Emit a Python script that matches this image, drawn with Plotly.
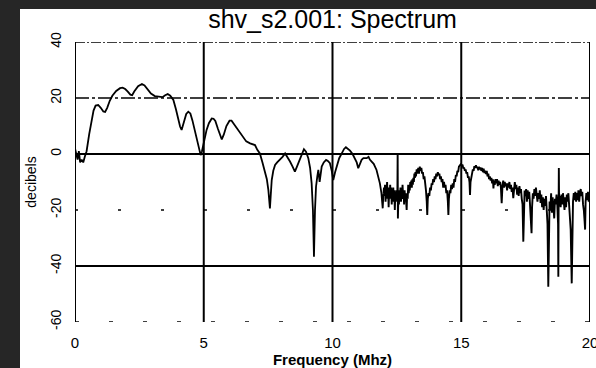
import plotly.graph_objects as go

# ---- data ----
freq_smooth = [0.00, 0.05, 0.10, 0.15, 0.20, 0.26, 0.32, 0.38, 0.45, 0.55, 0.65, 0.72, 0.80, 0.90, 1.00,
               1.10, 1.17, 1.25, 1.35, 1.45, 1.60, 1.75, 1.85, 1.95, 2.05, 2.15, 2.22, 2.30, 2.45, 2.60,
               2.70, 2.80, 2.95, 3.10, 3.25, 3.40, 3.50, 3.60, 3.70, 3.82, 3.92, 4.01, 4.08, 4.14, 4.22,
               4.32, 4.40, 4.48, 4.56, 4.64, 4.72, 4.80, 4.88, 4.93, 4.98, 5.04, 5.11, 5.20, 5.31, 5.38,
               5.45, 5.55, 5.63, 5.70, 5.78, 5.88, 6.00, 6.08, 6.15, 6.30, 6.45, 6.54, 6.65, 6.80, 6.90,
               6.99, 7.08, 7.18, 7.28, 7.38, 7.45, 7.51, 7.55, 7.57, 7.60, 7.64, 7.70, 7.77, 7.85, 7.96,
               8.06, 8.16, 8.25, 8.35, 8.45, 8.54, 8.62, 8.74, 8.82, 8.89, 8.97, 9.06, 9.13, 9.19, 9.24,
               9.28, 9.32, 9.36, 9.41, 9.45, 9.50, 9.54, 9.58, 9.66, 9.75, 9.82, 9.90, 9.97, 10.03, 10.10,
               10.16, 10.26, 10.36, 10.45, 10.52, 10.60, 10.68, 10.78, 10.87, 10.94, 11.00, 11.06, 11.13,
               11.20, 11.27, 11.33, 11.40, 11.45, 11.52, 11.60, 11.71, 11.78, 11.84, 11.90, 11.95, 11.98]
db_smooth = [2, 0, -2, 1, -3, -2, -3, -1, 1, 7, 12, 15.5, 17.3, 17.5, 16.5,
             15.2, 15, 16.5, 19, 20.8, 22.5, 23.5, 23.7, 23.2, 22.3, 21.2, 21, 22.3, 24.2, 25,
             24.5, 23.2, 21.6, 20.7, 20.4, 20.3, 21, 21.4, 20.8, 19.3, 16, 12, 9.8, 8.6, 11,
             14.3, 15.1, 14.5, 12, 9, 6, 3, -0.4, 1, 3, 6, 8.6, 11, 12.7, 12.6,
             11.8, 9, 6.5, 5.2, 7, 10, 11.9, 11.9, 11, 9, 7, 6.2, 4.5, 3.8, 3.5,
             3.2, 1.5, 0.2, -3, -6.3, -9, -12.9, -17, -19.4, -15, -9.3, -6, -3.9, -3, -2.1,
             -1, 0.2, -1, -2.7, -4.5, -6.3, -4.5, -1.5, 0.5, 1.7, 0.8, -1.5, -5, -10.5, -20,
             -36.7, -20, -11.7, -8, -5.7, -10, -6, -4.5, -3, -2.1, -2.5, -3.3, -6, -9.3, -6.5,
             -4.5, -1.5, 0.2, 1.8, 2.4, 1.8, 1.2, 0, -1.5, -3, -5.1, -3.5, -2.1,
             -1.5, -1.6, -1.5, -1, -2, -2.7, -3.5, -5.7, -8, -10.5, -14, -19.4, -14]

freq_noisy = [11.98, 12.00, 12.02, 12.04, 12.06, 12.08, 12.10, 12.12, 12.14, 12.16, 12.18, 12.20, 12.22,
              12.24, 12.26, 12.28, 12.30, 12.32, 12.34, 12.36, 12.38, 12.40, 12.42, 12.44, 12.46, 12.48,
              12.50, 12.52, 12.53, 12.54, 12.56, 12.58, 12.60, 12.62, 12.64, 12.66, 12.68, 12.70, 12.72,
              12.74, 12.76, 12.78, 12.80, 12.82, 12.84, 12.86, 12.88, 12.90, 12.92, 12.94, 12.96, 12.98,
              13.00, 13.02, 13.04, 13.06, 13.08, 13.10, 13.12, 13.14, 13.16, 13.18, 13.20, 13.22, 13.24,
              13.27, 13.30, 13.33, 13.36, 13.39, 13.42, 13.45, 13.48, 13.51, 13.54, 13.57, 13.60, 13.63,
              13.66, 13.68, 13.70, 13.73, 13.76, 13.79, 13.82, 13.85, 13.88, 13.91, 13.94, 13.97, 14.00,
              14.03, 14.06, 14.09, 14.12, 14.15, 14.18, 14.21, 14.24, 14.27, 14.30, 14.33, 14.36, 14.39,
              14.42, 14.45, 14.48, 14.50, 14.52, 14.55, 14.58, 14.61, 14.64, 14.67, 14.70, 14.73, 14.76,
              14.79, 14.82, 14.85, 14.88, 14.91, 14.95, 14.99, 15.02, 15.05, 15.08, 15.11, 15.14, 15.17,
              15.20, 15.23, 15.26, 15.29, 15.32, 15.34, 15.36, 15.39, 15.42, 15.45, 15.48, 15.51, 15.54,
              15.57, 15.60, 15.63, 15.66, 15.69, 15.72, 15.75, 15.78, 15.81, 15.84, 15.87, 15.90, 15.93,
              15.96, 15.99, 16.02, 16.05, 16.08, 16.11, 16.14, 16.17, 16.20, 16.23, 16.25, 16.27, 16.30,
              16.33, 16.36, 16.39, 16.42, 16.45, 16.48, 16.51, 16.54, 16.57, 16.60, 16.63, 16.66, 16.69,
              16.72, 16.75, 16.78, 16.81, 16.84, 16.87, 16.90, 16.93, 16.96, 16.99, 17.02, 17.05, 17.08,
              17.11, 17.14, 17.17, 17.20, 17.23, 17.26, 17.29, 17.32, 17.35, 17.38, 17.41, 17.43, 17.46,
              17.49, 17.52, 17.55, 17.58, 17.61, 17.64, 17.67, 17.70, 17.73, 17.75, 17.78, 17.81, 17.84,
              17.87, 17.90, 17.93, 17.96, 17.99, 18.02, 18.05, 18.08, 18.11, 18.14, 18.17, 18.20, 18.23,
              18.26, 18.29, 18.32, 18.35, 18.38, 18.40, 18.43, 18.46, 18.49, 18.52, 18.55, 18.58, 18.61,
              18.64, 18.67, 18.70, 18.73, 18.76, 18.77, 18.78, 18.79, 18.80, 18.83, 18.86, 18.89, 18.92,
              18.95, 18.98, 19.01, 19.04, 19.07, 19.10, 19.13, 19.16, 19.19, 19.22, 19.25, 19.29, 19.31,
              19.34, 19.37, 19.40, 19.43, 19.46, 19.49, 19.52, 19.55, 19.58, 19.61, 19.64, 19.67, 19.70,
              19.73, 19.76, 19.79, 19.81, 19.83, 19.86, 19.89, 19.92, 19.95, 19.98, 20.00]
db_noisy = [-14, -12, -15, -11, -17, -12, -14, -10, -16, -12, -19, -13, -15,
            -11, -16, -12, -18, -13, -16, -12, -17, -13, -20, -14, -17, -13,
            -16, -14, 0.3, -23, -15, -18, -13, -16, -12, -17, -14, -16, -11,
            -15, -13, -18, -13, -16, -14, -17, -20, -14, -16, -11, -14, -12,
            -13, -10, -12, -9.5, -12, -9, -11, -8.5, -10, -7, -8.5, -6.5, -8,
            -5.5, -7, -5, -7, -4.5, -6, -5, -7, -6.5, -9, -8, -10, -13,
            -17, -21.8, -16, -14, -15, -12, -13, -10.5, -11, -9, -10, -8, -9,
            -7, -8, -6.5, -7.5, -7, -9, -8, -10, -9, -12, -10, -12, -11,
            -14, -13, -17, -21.8, -16, -13, -14, -11, -12.5, -10.5, -12, -9, -10,
            -7.5, -8, -6, -6.5, -4.5, -4, -3.5, -4.2, -3.8, -5.2, -4.8, -6, -5.5,
            -7, -6.5, -8.5, -8, -10, -14.6, -10, -8, -7.5, -5.5, -6, -4.3, -5,
            -4, -5, -4.5, -5.8, -4.6, -5.5, -4.8, -6, -5, -6.5, -5.2, -6.8, -6,
            -7.2, -6, -8, -7, -9, -8, -9.5, -8.5, -10.5, -9, -12.3, -9.5, -11,
            -9, -10.5, -9, -11.5, -9.5, -11, -10, -12, -17.6, -11.5, -9.5, -12, -10,
            -11.5, -10.5, -13, -10.5, -12, -10, -12.5, -11, -13.5, -12, -15.8, -11.5, -10,
            -12.5, -11, -14.5, -12, -15, -11.5, -14, -12.5, -16, -18, -31.3, -18, -13,
            -15, -12.5, -17, -13, -16, -13.5, -18, -22, -28.3, -19, -14, -16, -12.5,
            -15, -12, -14.5, -17, -14, -16, -13, -17.5, -14.5, -19, -15.5, -20, -16,
            -18.5, -15, -21, -25, -47.4, -24, -17, -20, -14, -21, -15.5, -19, -23,
            -16, -18, -14.5, -18, -25, -43.8, -20, -5, -17, -15, -19, -14.5, -18,
            -14, -17, -20, -15.5, -19, -14.5, -17, -14, -19, -22, -27, -46.2, -23,
            -17, -14, -16.5, -13.5, -17, -14, -16.5, -13, -17, -14, -12.5, -15, -13.5,
            -18, -20, -24, -27, -17, -14, -16.5, -13.5, -17, -15, -18]

x_ticks = [0, 5, 10, 15, 20]
y_ticks = [-60, -40, -20, 0, 20, 40]
x_grid = [0, 5, 10, 15, 20]
y_grid = [40, 20, 0, -20, -40, -60]
y_grid_dash = ["10px,2px,2px,2px", "14px,3px,3px,3px", "solid", "3px,40px", "solid", "4px,30px"]
y_grid_width = [1.5, 1.5, 2.2, 1.5, 2.2, 1.5]

W, H = 596, 368
ML, MR, MT, MB = 75, 6, 42, 46
PW, PH = W - ML - MR, H - MT - MB

def px_to_paper_x(p):
    return (p - ML) / PW

def px_to_paper_y(p):
    return (H - MB - p) / PH

fig = go.Figure()
fig.add_trace(go.Scatter(x=freq_smooth, y=db_smooth, mode="lines",
                         line=dict(color="black", width=1.8), showlegend=False,
                         hoverinfo="skip"))
fig.add_trace(go.Scatter(x=freq_noisy, y=db_noisy, mode="lines",
                         line=dict(color="black", width=1.9), showlegend=False,
                         hoverinfo="skip"))

shapes = []
# page background: white sheet over dark scan border
shapes.append(dict(type="rect", xref="paper", yref="paper", layer="below",
                   x0=px_to_paper_x(20), x1=px_to_paper_x(W + 5),
                   y0=px_to_paper_y(H + 5), y1=px_to_paper_y(9),
                   fillcolor="white", line=dict(width=0)))
for xv in x_grid:
    shapes.append(dict(type="line", xref="x", yref="paper", layer="below",
                       x0=xv, x1=xv, y0=0, y1=1,
                       line=dict(color="black", width=2)))
for yv, dsh, wd in zip(y_grid, y_grid_dash, y_grid_width):
    shapes.append(dict(type="line", xref="paper", yref="y", layer="below",
                       x0=0, x1=1, y0=yv, y1=yv,
                       line=dict(color="black", width=wd, dash=dsh)))

font = "Liberation Sans, Arial, Helvetica, sans-serif"
fig.update_layout(
    width=W, height=H,
    margin=dict(l=ML, r=MR, t=MT, b=MB, pad=0, autoexpand=False),
    paper_bgcolor="#262626",
    plot_bgcolor="white",
    shapes=shapes,
    title=dict(text="shv_s2.001: Spectrum", x=(ML + PW / 2) / W, xanchor="center",
               y=1 - 19 / H, yanchor="middle", yref="container",
               font=dict(family=font, size=25, color="black")),
    xaxis=dict(range=[0, 20], tickvals=x_ticks, ticktext=[str(v) for v in x_ticks],
               showgrid=False, zeroline=False, showline=False, ticks="",
               automargin=False,
               ticklabelstandoff=10, ticklabeloverflow="allow",
               tickfont=dict(family=font, size=15, color="black"),
               title=dict(text="<b>Frequency (Mhz)</b>", standoff=5,
                          font=dict(family=font, size=15, color="black"))),
    yaxis=dict(range=[-60, 40], tickvals=y_ticks, ticktext=[str(v) for v in y_ticks],
               showgrid=False, zeroline=False, showline=False, ticks="",
               automargin=False,
               tickangle=-90, ticklabelstandoff=10,
               tickfont=dict(family=font, size=14, color="black"),
               title=dict(text="decibels", standoff=8,
                          font=dict(family=font, size=14, color="black"))),
)

fig.write_html("out.html")
